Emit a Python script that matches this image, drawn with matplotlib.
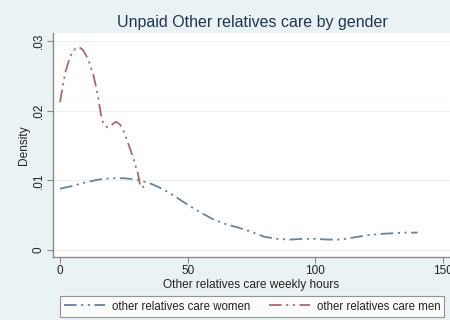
import numpy as np
import matplotlib
matplotlib.use("Agg")
import matplotlib.pyplot as plt

# Kernel density estimates
women_hours = [0, 5, 10, 15, 20, 25, 30, 35, 40, 45, 50, 55, 60, 65, 70,
               75, 80, 85, 90, 95, 100, 105, 110, 115, 120, 125, 130, 135, 140]
women_density = [0.0088, 0.0092, 0.0097, 0.0101, 0.0103, 0.0103, 0.0101, 0.0096,
                 0.0088, 0.0077, 0.0065, 0.0054, 0.0044, 0.0037, 0.0032, 0.0026,
                 0.0019, 0.0016, 0.0015, 0.0016, 0.0016, 0.0015, 0.0015, 0.0018,
                 0.0021, 0.0023, 0.0024, 0.0025, 0.0025]

men_hours = [0, 2, 4, 6, 7.5, 9, 11, 13, 14.5, 16, 17, 18.5, 20, 22, 23.5,
             25, 27, 29, 30.5, 31.5, 33, 34.5]
men_density = [0.0212, 0.0254, 0.0278, 0.0289, 0.0291, 0.0287, 0.0274, 0.0252,
               0.0228, 0.0195, 0.0181, 0.0176, 0.0179, 0.0184, 0.0180, 0.0170,
               0.0150, 0.0128, 0.0110, 0.0090, 0.0091, 0.0094]

xticks = [0, 50, 100, 150]
yticks = [0, 0.01, 0.02, 0.03]
ytick_labels = ["0", ".01", ".02", ".03"]

bg = "#eaf2f3"
women_color = "#6283a6"
men_color = "#b0666b"
text_color = "#222222"

plt.rcParams["font.family"] = ["Liberation Sans", "DejaVu Sans"]

fig = plt.figure(figsize=(4.5, 3.2), dpi=100, facecolor=bg)
ax = fig.add_axes([53 / 450, 1 - 257 / 320, 1 - 53 / 450, 224 / 320])
ax.set_facecolor("white")

dash = (0, (7, 2.5, 1.2, 2.5, 1.2, 2.5))
ax.plot(women_hours, women_density, color=women_color, lw=1.3, linestyle=dash,
        label="other relatives care women")
ax.plot(men_hours, men_density, color=men_color, lw=1.3, linestyle=dash,
        label="other relatives care men")

ax.set_xlim(-2.74, 152.7)
ax.set_ylim(-0.001, 0.03113)
ax.set_xticks(xticks)
ax.set_yticks(yticks)
ax.set_yticklabels(ytick_labels, rotation=90, va="center")
ax.grid(axis="y", color=bg, lw=0.8)
ax.set_axisbelow(True)

for s in ["top", "right"]:
    ax.spines[s].set_visible(False)
for s in ["left", "bottom"]:
    ax.spines[s].set_color("#8a8a8a")
    ax.spines[s].set_linewidth(1.0)
ax.tick_params(colors="#8a8a8a", labelcolor=text_color, labelsize=8.5,
               length=4, width=0.8, pad=2)

ax.set_xlabel("Other relatives care weekly hours", fontsize=8.6, color=text_color, labelpad=1)
ax.set_ylabel("Density", fontsize=8.6, color=text_color, labelpad=2)

fig.text(252 / 450, 1 - 23 / 320, "Unpaid Other relatives care by gender",
         ha="center", va="center", fontsize=11.5, color="#1e3553")

leg = fig.legend(loc="center", bbox_to_anchor=(252 / 450, 1 - 306.5 / 320), ncol=2,
                 fontsize=8.3, frameon=True, fancybox=False, handlelength=3.55,
                 columnspacing=1.65, borderpad=0.35, handletextpad=0.6,
                 borderaxespad=0)
leg.get_frame().set_edgecolor("#7a7a7a")
leg.get_frame().set_linewidth(0.8)
for t in leg.get_texts():
    t.set_color(text_color)

fig.savefig("out.png", dpi=100, facecolor=bg)
